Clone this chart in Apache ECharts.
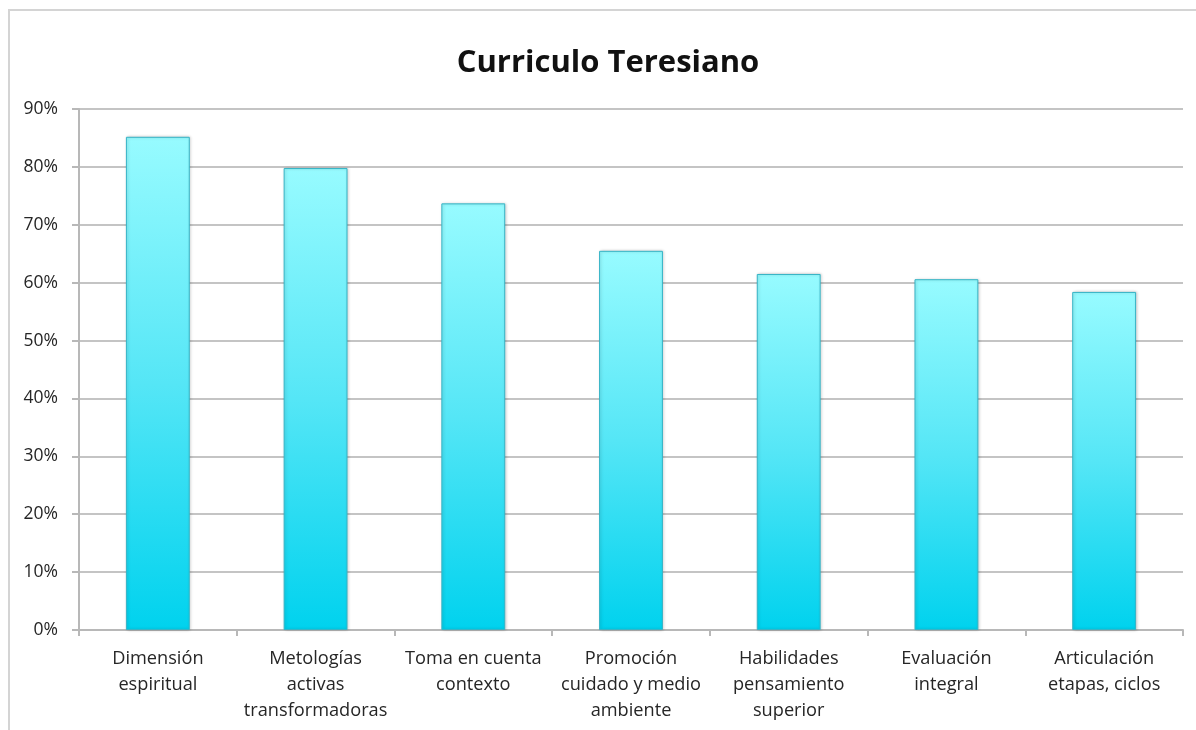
<!DOCTYPE html>
<html>
<head>
<meta charset="utf-8">
<script src="https://cdn.jsdelivr.net/npm/echarts@6/dist/echarts.min.js"></script>
<style>
  html, body { margin: 0; padding: 0; background: #fff; }
  #chart { width: 1196px; height: 730px; }
</style>
</head>
<body>
<div id="chart"></div>
<script>
const categories = [
  'Dimensión\nespiritual',
  'Metologías\nactivas\ntransformadoras',
  'Toma en cuenta\ncontexto',
  'Promoción\ncuidado y medio\nambiente',
  'Habilidades\npensamiento\nsuperior',
  'Evaluación\nintegral',
  'Articulación\netapas, ciclos'
]
const values = [85.2, 79.8, 73.7, 65.5, 61.5, 60.6, 58.4]
const yTicks = { min: 0, max: 90, step: 10 }

const chart = echarts.init(document.getElementById('chart'))
const font = '"Open Sans", Lato, sans-serif'

chart.setOption({
  animation: false,
  textStyle: { fontFamily: font },
  graphic: [{
    type: 'rect',
    shape: { x: 9, y: 10, width: 1400, height: 900 },
    style: { fill: 'none', stroke: '#d4d4d4', lineWidth: 2 },
    silent: true
  }],
  title: {
    text: 'Curriculo Teresiano',
    left: 603,
    top: 43,
    textAlign: 'center',
    textStyle: { fontFamily: font, fontSize: 31, fontWeight: 'bold', color: '#111' }
  },
  grid: { left: 79, right: 13, top: 109, bottom: 100, containLabel: false },
  xAxis: {
    type: 'category',
    data: categories,
    axisLine: { lineStyle: { color: '#b8b8b8', width: 2 } },
    axisTick: { show: true, length: 6, alignWithLabel: false, lineStyle: { color: '#b8b8b8', width: 2 } },
    axisLabel: { color: '#262626', fontSize: 18.2, lineHeight: 25.8, margin: 16, interval: 0 }
  },
  yAxis: {
    type: 'value',
    min: yTicks.min,
    max: yTicks.max,
    interval: yTicks.step,
    axisLine: { show: true, lineStyle: { color: '#b8b8b8', width: 2 } },
    axisTick: { show: true, length: 7, lineStyle: { color: '#b8b8b8', width: 2 } },
    splitLine: { lineStyle: { color: '#c4c4c4', width: 2 } },
    axisLabel: { color: '#262626', fontSize: 17.5, margin: 21, formatter: '{value}%' }
  },
  series: [{
    type: 'bar',
    data: values,
    barWidth: '40.5%',
    itemStyle: {
      color: new echarts.graphic.LinearGradient(0, 0, 0, 1, [
        { offset: 0, color: '#97fbff' },
        { offset: 0.5, color: '#55e6f6' },
        { offset: 1, color: '#00d2ee' }
      ]),
      borderColor: '#36b4c6',
      borderWidth: 1,
      shadowColor: 'rgba(0,0,0,0.2)',
      shadowBlur: 3,
      shadowOffsetX: 1,
      shadowOffsetY: 0
    }
  }]
})
</script>
</body>
</html>
